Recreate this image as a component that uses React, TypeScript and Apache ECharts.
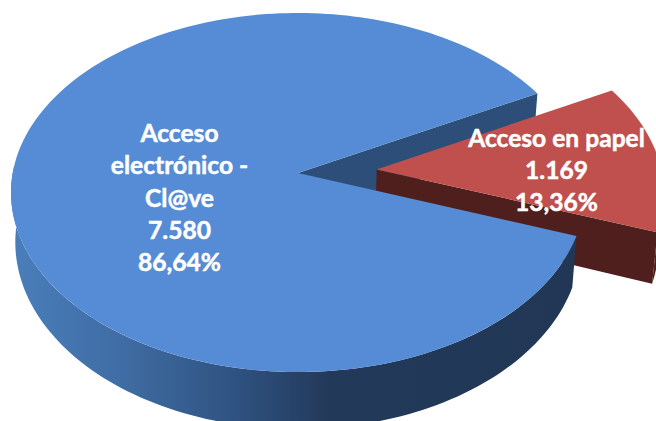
import React, { useEffect, useRef } from "react";
import * as echarts from "echarts";

const WIDTH = 656;
const HEIGHT = 421;

const categories = ["Acceso en papel", "Acceso electrónico - Cl@ve"];
const categoryLines = [["Acceso en papel"], ["Acceso", "electrónico -", "Cl@ve"]];
const values = [1169, 7580];
const valueLabels = ["1.169", "7.580"];
const percentLabels = ["13,36%", "86,64%"];

const total = values[0] + values[1];
const midAngle = 4.05;
const explode = [0.277, 0];
const labelAnchors = [
  [556.5, 169.5],
  [179.5, 197],
];

// Perspective view of the pie's top plane and of its bottom plane
const view = { x0: 298, y0: 173, a: 285.3, b: 177.4, p: 0.1087, depth: 49, kx: 0.985, ky: 1.04 };

const rad = (d: number) => (d * Math.PI) / 180;

function project(angle: number, r: number, ex: number, bottom: boolean): number[] {
  const u = r * Math.cos(rad(angle)) + ex * Math.cos(rad(midAngle));
  const v = r * Math.sin(rad(angle)) + ex * Math.sin(rad(midAngle));
  const w = 1 + view.p * v;
  const kx = bottom ? view.kx : 1;
  const ky = bottom ? view.ky : 1;
  return [
    view.x0 + (kx * view.a * u) / w,
    view.y0 + (bottom ? view.depth : 0) - (ky * view.b * v) / w,
  ];
}

function arc(from: number, to: number, ex: number, bottom: boolean): number[][] {
  const steps = Math.max(2, Math.ceil(Math.abs(to - from) / 1.5));
  const pts: number[][] = [];
  for (let i = 0; i <= steps; i++) pts.push(project(from + ((to - from) * i) / steps, 1, ex, bottom));
  return pts;
}

function polygon(points: number[][], style: any, z2: number) {
  return { type: "polygon", shape: { points }, style, z2, silent: true };
}

const renderItem = (params: any, api: any) => {
  const i = params.dataIndex;
  const value = api.value(0);
  const sweepRed = (values[0] / total) * 360;
  const lo = midAngle - sweepRed / 2;
  const hi = midAngle + sweepRed / 2;
  const children: any[] = [];
  if (i === 0) {
    const ex = explode[0];
    const sweep = (value / total) * 360;
    const a0 = midAngle - sweep / 2;
    const a1 = midAngle + sweep / 2;
    const topApex = project(0, 0, ex, false);
    const botApex = project(0, 0, ex, true);
    children.push(
      polygon([topApex, project(a0, 1, ex, false), project(a0, 1, ex, true), botApex], { fill: "#4E1F1C" }, 2),
      polygon([...arc(a0, midAngle, ex, false), ...arc(midAngle, a0, ex, true)], { fill: "#4E1F1C" }, 2),
      polygon([topApex, ...arc(a0, a1, ex, false)], { fill: "#C0504D" }, 3),
    );
  } else {
    const ex = explode[1];
    const topApex = project(0, 0, ex, false);
    const botApex = project(0, 0, ex, true);
    const start = hi;
    const end = lo + 360;
    children.push(
      polygon([topApex, project(hi, 1, ex, false), project(hi, 1, ex, true), botApex], { fill: "#2D4E78" }, 1),
      polygon([...arc(178, end, ex, false), ...arc(end, 178, ex, true)], {
        fill: new echarts.graphic.LinearGradient(0, 0, 1, 0, [
          { offset: 0, color: "#4A7EBB" },
          { offset: 0.2, color: "#3F6CA3" },
          { offset: 0.4, color: "#2F5280" },
          { offset: 0.56, color: "#23395A" },
          { offset: 1, color: "#213755" },
        ]),
      }, 4),
      polygon([topApex, ...arc(start, end, ex, false)], { fill: "#558CD5" }, 5),
    );
  }
  children.push({
    type: "text",
    silent: true,
    z2: 6,
    style: {
      x: labelAnchors[i][0],
      y: labelAnchors[i][1],
      text: [...categoryLines[i], valueLabels[i], percentLabels[i]].join("\n"),
      fill: "#FFFFFF",
      stroke: "#FFFFFF",
      lineWidth: 0.5,
      align: "center",
      verticalAlign: "middle",
      fontFamily: "Lato",
      fontWeight: "bold",
      fontSize: 24.6,
      lineHeight: 32.3,
    },
  });
  return { type: "group", children };
};

export default function App() {
  const ref = useRef<HTMLDivElement>(null);
  useEffect(() => {
    const chart = echarts.init(ref.current!, undefined, { renderer: "svg" });
    chart.setOption({
      animation: false,
      backgroundColor: "#FFFFFF",
      series: [
        {
          type: "custom",
          coordinateSystem: "none",
          silent: true,
          data: values.map((v, k) => ({ name: categories[k], value: [v] })),
          renderItem,
        },
      ],
    });
    return () => chart.dispose();
  }, []);
  return (
    <div
      ref={ref}
      style={{ position: "fixed", left: 0, top: 0, width: WIDTH, height: HEIGHT }}
    />
  );
}
